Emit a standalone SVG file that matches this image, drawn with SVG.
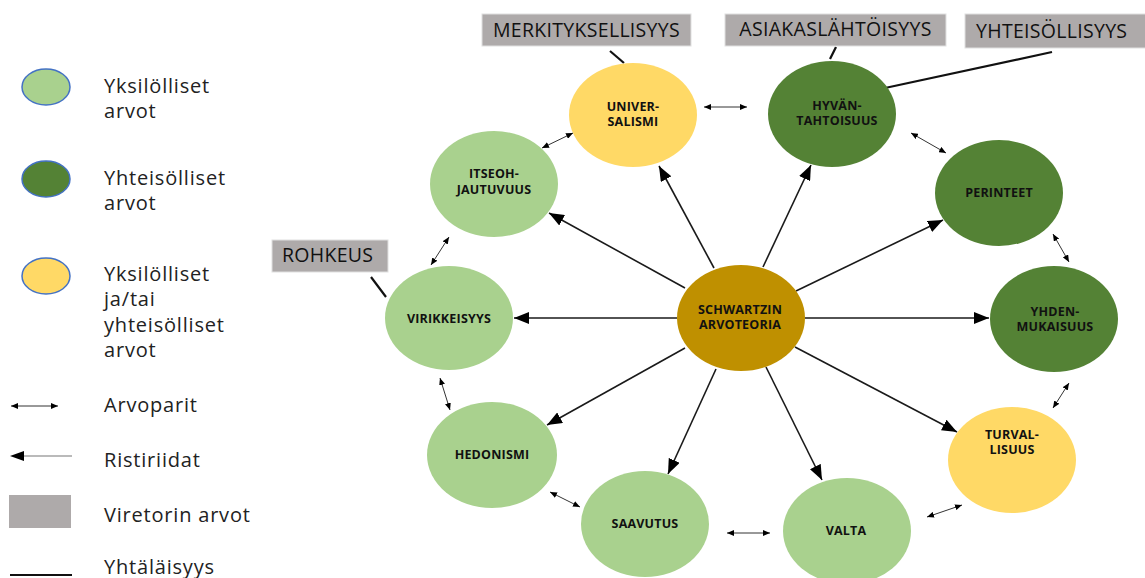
<svg xmlns="http://www.w3.org/2000/svg" width="1145" height="578" viewBox="0 0 1145 578">
  <defs>
    <style>
      .lg { fill: #A9D18E; }
      .dg { fill: #548235; }
      .yl { fill: #FFD966; }
      .gd { fill: #BF9000; }
      .key { stroke: #4472C4; stroke-width: 1.5; }
      .nt { font-family: "Open Sans", "Noto Sans", sans-serif; font-weight: bold; font-size: 12.5px; letter-spacing: 0.2px; fill: #111; text-anchor: middle; }
      .lt { font-family: "Open Sans", "Noto Sans", sans-serif; font-size: 20px; letter-spacing: 0.8px; fill: #222; }
      .bx { fill: #AEAAAA; stroke: #e0e0e0; stroke-width: 1; }
      .bt { font-family: "Open Sans", "Noto Sans", sans-serif; font-size: 19.5px; letter-spacing: 0.3px; fill: #111; }
      .conflict { stroke: #1a1a1a; stroke-width: 1.6; fill: none; marker-end: url(#big); }
      .pair { stroke: #333; stroke-width: 1; fill: none; marker-start: url(#small); marker-end: url(#small); }
      .tie { stroke: #111; stroke-width: 2.2; fill: none; }
    </style>
    <marker id="big" viewBox="0 0 15 12" refX="15" refY="6" markerWidth="15" markerHeight="12" markerUnits="userSpaceOnUse" orient="auto">
      <path d="M0,0 L15,6 L0,12 z" fill="#000"/>
    </marker>
    <marker id="small" viewBox="0 0 7 6" refX="7" refY="3" markerWidth="7" markerHeight="6" markerUnits="userSpaceOnUse" orient="auto-start-reverse">
      <path d="M0,0 L7,3 L0,6 z" fill="#000"/>
    </marker>
  </defs>

  <rect width="1145" height="578" fill="#fff"/>

  <!-- Legend -->
  <g id="legend">
    <ellipse class="lg key" cx="46" cy="87" rx="24" ry="18"/>
    <text class="lt" x="104" y="93">Yksilölliset</text>
    <text class="lt" x="104" y="118">arvot</text>

    <ellipse class="dg key" cx="46" cy="179" rx="24" ry="18"/>
    <text class="lt" x="104" y="185">Yhteisölliset</text>
    <text class="lt" x="104" y="210">arvot</text>

    <ellipse class="yl key" cx="46" cy="276" rx="24" ry="18"/>
    <text class="lt" x="104" y="281">Yksilölliset</text>
    <text class="lt" x="104" y="306">ja/tai</text>
    <text class="lt" x="104" y="332">yhteisölliset</text>
    <text class="lt" x="104" y="357">arvot</text>

    <line class="pair" x1="11" y1="406" x2="58" y2="406"/>
    <text class="lt" x="104" y="412">Arvoparit</text>

    <line x1="22" y1="456" x2="72" y2="456" stroke="#777" stroke-width="1.2"/>
    <path d="M10,456 L24,451 L24,461 z" fill="#000"/>
    <text class="lt" x="104" y="467">Ristiriidat</text>

    <rect x="9" y="495" width="62" height="33" fill="#AEAAAA"/>
    <text class="lt" x="104" y="522">Viretorin arvot</text>

    <line class="tie" x1="10" y1="575" x2="72" y2="575"/>
    <text class="lt" x="104" y="574">Yhtäläisyys</text>
  </g>

  <!-- Connectors -->
  <g id="connectors">
    <!-- contradictions from the centre -->
    <line class="conflict" x1="714" y1="268" x2="659" y2="166"/>
    <line class="conflict" x1="763" y1="267" x2="811" y2="165"/>
    <line class="conflict" x1="685" y1="288" x2="549" y2="213"/>
    <line class="conflict" x1="677" y1="318" x2="514" y2="318"/>
    <line class="conflict" x1="796" y1="291" x2="943" y2="220"/>
    <line class="conflict" x1="805" y1="318" x2="989" y2="318"/>
    <line class="conflict" x1="795" y1="347" x2="957" y2="432"/>
    <line class="conflict" x1="766" y1="367" x2="822" y2="480"/>
    <line class="conflict" x1="716" y1="369" x2="668" y2="474"/>
    <line class="conflict" x1="685" y1="348" x2="547" y2="425"/>

    <!-- value pairs -->
    <line class="pair" x1="704" y1="107" x2="747" y2="107"/>
    <line class="pair" x1="542" y1="148" x2="573" y2="133"/>
    <line class="pair" x1="911" y1="133" x2="946" y2="153"/>
    <line class="pair" x1="1053" y1="234" x2="1069" y2="262"/>
    <line class="pair" x1="1069" y1="383" x2="1053" y2="408"/>
    <line class="pair" x1="962" y1="505" x2="927" y2="517"/>
    <line class="pair" x1="727" y1="533" x2="770" y2="533"/>
    <line class="pair" x1="580" y1="507" x2="550" y2="492"/>
    <line class="pair" x1="450" y1="410" x2="440" y2="378"/>
    <line class="pair" x1="431" y1="265" x2="449" y2="237"/>

    <!-- similarities to organisation values -->
    <line class="tie" x1="610" y1="51" x2="624" y2="63"/>
    <line class="tie" x1="836" y1="47" x2="830" y2="59"/>
    <line class="tie" x1="1052" y1="52" x2="885" y2="88"/>
    <line class="tie" x1="371" y1="277" x2="386" y2="297"/>
  </g>

  <!-- Organisation values -->
  <g id="box-merkityksellisyys">
    <rect class="bx" x="482" y="14" width="209" height="32"/>
    <text class="bt" x="586.5" y="37" text-anchor="middle">MERKITYKSELLISYYS</text>
  </g>
  <g id="box-asiakaslahtoisyys">
    <rect class="bx" x="725" y="14" width="221" height="32"/>
    <text class="bt" x="835.5" y="36" text-anchor="middle">ASIAKASLÄHTÖISYYS</text>
  </g>
  <g id="box-yhteisollisyys">
    <rect class="bx" x="965" y="14" width="185" height="34"/>
    <text class="bt" x="976" y="38">YHTEISÖLLISYYS</text>
  </g>
  <g id="box-rohkeus">
    <rect class="bx" x="272" y="240" width="116" height="32"/>
    <text class="bt" x="282" y="262">ROHKEUS</text>
  </g>

  <!-- Value nodes -->
  <g id="node-universalismi">
    <ellipse class="yl" cx="633" cy="115" rx="64" ry="52"/>
    <text class="nt" x="633" y="110.5">UNIVER-</text>
    <text class="nt" x="633" y="125.5">SALISMI</text>
  </g>
  <g id="node-hyvantahtoisuus">
    <ellipse class="dg" cx="832" cy="114" rx="64" ry="53"/>
    <text class="nt" x="837" y="109.5">HYVÄN-</text>
    <text class="nt" x="837" y="124.5">TAHTOISUUS</text>
  </g>
  <g id="node-itseohjautuvuus">
    <ellipse class="lg" cx="494" cy="184" rx="64" ry="53"/>
    <text class="nt" x="494" y="178">ITSEOH-</text>
    <text class="nt" x="494" y="194">JAUTUVUUS</text>
  </g>
  <g id="node-virikkeisyys">
    <ellipse class="lg" cx="449" cy="318" rx="64" ry="52"/>
    <text class="nt" x="449" y="323">VIRIKKEISYYS</text>
  </g>
  <g id="node-schwartz">
    <ellipse class="gd" cx="741" cy="318" rx="64" ry="53"/>
    <text class="nt" x="740" y="313.5">SCHWARTZIN</text>
    <text class="nt" x="740" y="328.5">ARVOTEORIA</text>
  </g>
  <g id="node-perinteet">
    <ellipse class="dg" cx="999" cy="193" rx="64" ry="53"/>
    <text class="nt" x="999" y="197">PERINTEET</text>
  </g>
  <g id="node-yhdenmukaisuus">
    <ellipse class="dg" cx="1054" cy="319" rx="64" ry="53"/>
    <text class="nt" x="1055" y="315.5">YHDEN-</text>
    <text class="nt" x="1055" y="330.5">MUKAISUUS</text>
  </g>
  <g id="node-turvallisuus">
    <ellipse class="yl" cx="1012" cy="460" rx="64" ry="53"/>
    <text class="nt" x="1012" y="438.5">TURVAL-</text>
    <text class="nt" x="1012" y="453.5">LISUUS</text>
  </g>
  <g id="node-hedonismi">
    <ellipse class="lg" cx="492" cy="455" rx="65" ry="53"/>
    <text class="nt" x="492" y="459">HEDONISMI</text>
  </g>
  <g id="node-saavutus">
    <ellipse class="lg" cx="645" cy="524" rx="64" ry="53"/>
    <text class="nt" x="645" y="528">SAAVUTUS</text>
  </g>
  <g id="node-valta">
    <ellipse class="lg" cx="847" cy="531" rx="64" ry="53"/>
    <text class="nt" x="846" y="535">VALTA</text>
  </g>
</svg>
